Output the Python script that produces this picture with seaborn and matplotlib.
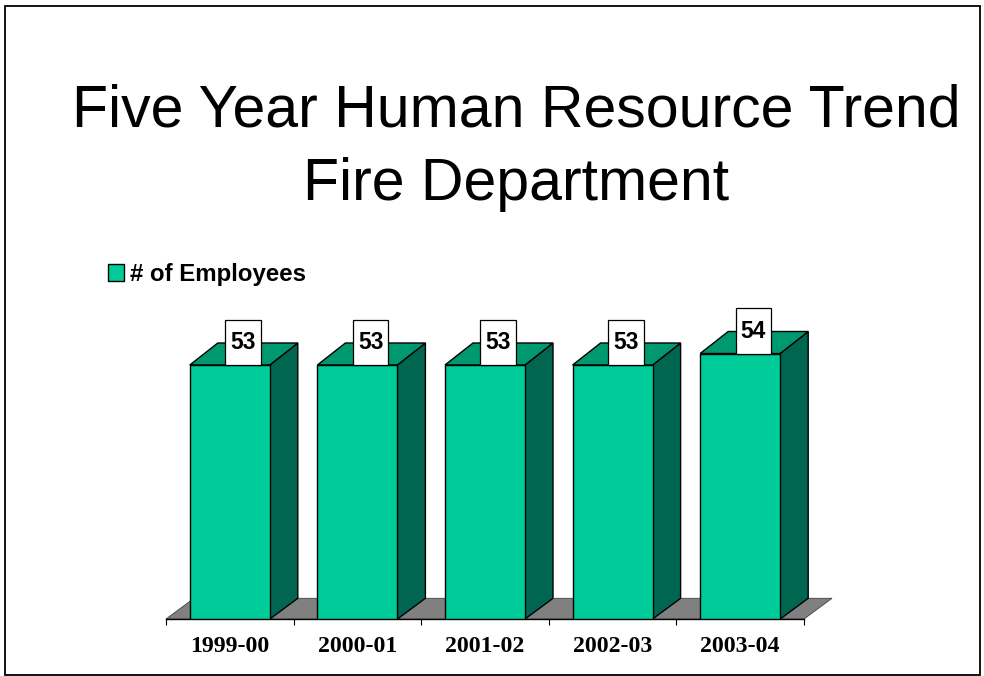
import matplotlib
matplotlib.use("Agg")
import matplotlib.pyplot as plt
from matplotlib.patches import Polygon, Rectangle
import numpy as np
import pandas as pd
import seaborn as sns

title = "Five Year Human Resource Trend\nFire Department"
series_name = "# of Employees"
years = ["1999-00", "2000-01", "2001-02", "2002-03", "2003-04"]
employees = [53, 53, 53, 53, 54]

W, H = 984, 676
FRONT, TOP, SIDE, FLOOR = "#00CC99", "#00996F", "#00664F", "#808080"
sns.set_theme(style="white")
plt.rcParams["font.family"] = ["Liberation Sans", "DejaVu Sans"]

fig = plt.figure(figsize=(W / 100, H / 100), dpi=100, facecolor="white")
L, R, B, T = 166, 804, 619, 300
ax = fig.add_axes([L / W, 1 - B / H, (R - L) / W, (B - T) / H])
PX_PER_UNIT = 11.5
ymin = 53 - 254 / PX_PER_UNIT
ax.set_ylim(ymin, ymin + (B - T) / PX_PER_UNIT)
px_x = (R - L) / len(years)
dx = 28 / px_x
dy = 22 / PX_PER_UNIT
dy_floor = 20.7 / PX_PER_UNIT

df = pd.DataFrame({"year": years, "employees": employees})
sns.barplot(data=df, x="year", y="employees", color=FRONT, saturation=1, width=80 / px_x,
            edgecolor="black", linewidth=1.0, ax=ax, zorder=3, label=series_name)
ax.set_xlim(-0.5, len(years) - 0.5)

# floor
x0, x1 = -0.5, len(years) - 0.5
ax.add_patch(Polygon([(x0, ymin), (x1, ymin), (x1 + dx, ymin + dy_floor), (x0 + dx, ymin + dy_floor)],
                     closed=True, facecolor=FLOOR, edgecolor="#404040", linewidth=0.6, zorder=1, clip_on=False))

hw = 40 / px_x
for i, v in enumerate(employees):
    ax.add_patch(Polygon([(i + hw, ymin), (i + hw + dx, ymin + dy_floor), (i + hw + dx, v + dy), (i + hw, v)],
                         closed=True, facecolor=SIDE, edgecolor="black", linewidth=1.0, zorder=2, clip_on=False))
    ax.add_patch(Polygon([(i - hw, v), (i + hw, v), (i + hw + dx, v + dy), (i - hw + dx, v + dy)],
                         closed=True, facecolor=TOP, edgecolor="black", linewidth=1.0, zorder=2, clip_on=False))
    cx, cy = i + 13.2 / px_x, v + 22.5 / PX_PER_UNIT
    bw, bh = 35.5 / px_x, 45.5 / PX_PER_UNIT
    ax.add_patch(Rectangle((cx - bw / 2, cy - bh / 2), bw, bh, facecolor="white", edgecolor="black",
                           linewidth=0.9, zorder=5, clip_on=False))
    ax.text(cx, cy, str(v), ha="center", va="center", fontsize=16.5, fontweight="bold",
            color="black", zorder=6, clip_on=False)

sns.despine(ax=ax, left=True, right=True, top=True)
ax.spines["bottom"].set_color("black")
ax.spines["bottom"].set_linewidth(1.0)
ax.spines["bottom"].set_zorder(4)
ax.set_xlabel("")
ax.set_ylabel("")
ax.set_yticks([])
ax.patch.set_visible(False)
ax.set_xticks(np.arange(len(years) + 1) - 0.5)
ax.set_xticklabels([])
ax.set_xticks(np.arange(len(years)), labels=years, minor=True)
ax.tick_params(axis="x", which="major", length=4, width=0.8, color="black", bottom=True)
ax.tick_params(axis="x", which="minor", length=0, pad=12, labelsize=17.2)
for t in ax.get_xticklabels(minor=True):
    t.set_fontfamily("Liberation Serif")
    t.set_fontweight("bold")
    t.set_color("black")

leg = ax.legend(loc="upper left", bbox_to_anchor=(108 / W, 1 - 263 / H), bbox_transform=fig.transFigure,
                frameon=False, borderpad=0, borderaxespad=0, handlelength=0.67, handleheight=0.67,
                handletextpad=0.25, prop={"family": "Liberation Sans", "weight": "bold", "size": 17.3},
                labelcolor="black")

fig.text(516 / W, 1 - 147.5 / H, title, ha="center", va="center", fontsize=42.5, color="black",
         linespacing=1.43)
fig.add_artist(Rectangle((4.5 / W, 1 - 674.5 / H), 975.5 / W, 669 / H, transform=fig.transFigure,
                         facecolor="none", edgecolor="black", linewidth=1.3))
fig.savefig("out.png", dpi=100)
